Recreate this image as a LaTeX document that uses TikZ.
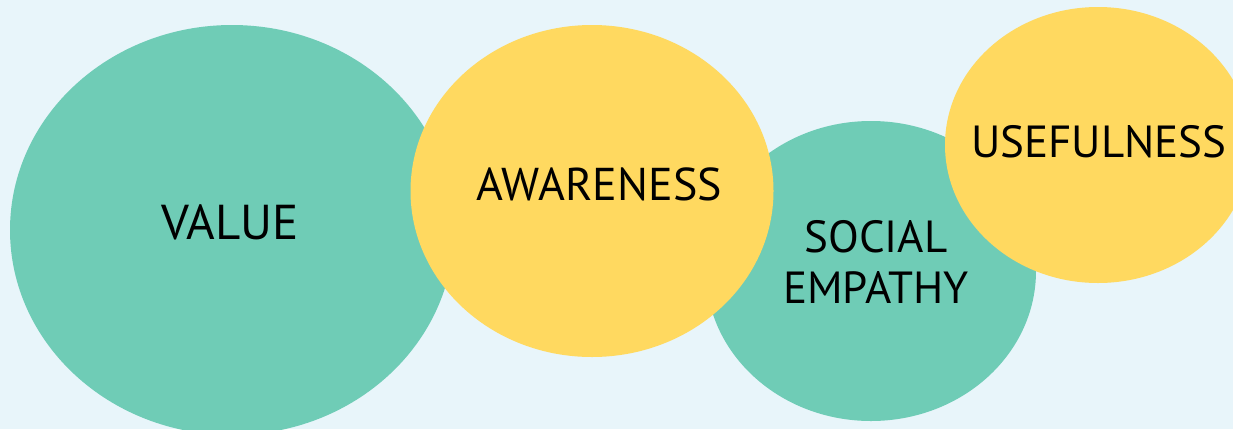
\documentclass[tikz,border=0pt]{standalone}
\usepackage{fontspec}
\setmainfont{PT Sans}
\usetikzlibrary{shapes.geometric}

\definecolor{bgblue}{RGB}{232,245,250}
\definecolor{teal}{RGB}{111,204,182}
\definecolor{sun}{RGB}{255,217,96}

\tikzset{
  blob/.style={ellipse,draw=none,inner sep=0pt},
  lbl/.style={draw=none,text=black,align=center,font=\fontsize{45}{52}\selectfont}
}

\begin{document}
\begin{tikzpicture}[x=1pt,y=-1pt]

      % background
      \useasboundingbox (0,0) rectangle (1233,429);
      \clip (0,0) rectangle (1233,429);
      \fill[bgblue] (0,0) rectangle (1233,429);

      % value
      \node[blob,fill=teal,minimum width=444pt,minimum height=410pt] (value) at (232,230) {};
      \node[lbl,font=\fontsize{49}{52}\selectfont] (valuetext) at ([xshift=-2pt,yshift=8pt]value.center) {VALUE};

      % social empathy
      \node[blob,fill=teal,minimum width=330pt,minimum height=300pt] (social) at (871,271) {};
      \node[lbl,font=\fontsize{45}{51}\selectfont] (socialtext) at ([xshift=5pt,yshift=9pt]social.center) {SOCIAL\\EMPATHY};

      % awareness
      \node[blob,fill=sun,minimum width=363pt,minimum height=332pt] (aware) at (592,191) {};
      \node[lbl,font=\fontsize{46}{52}\selectfont] (awaretext) at ([xshift=7pt,yshift=7pt]aware.center) {AWARENESS};

      % usefulness
      \node[blob,fill=sun,minimum width=306pt,minimum height=276pt] (useful) at (1098,145) {};
      \node[lbl] (usefultext) at ([xshift=1pt,yshift=3pt]useful.center) {USEFULNESS};

    \end{tikzpicture}
\end{document}
